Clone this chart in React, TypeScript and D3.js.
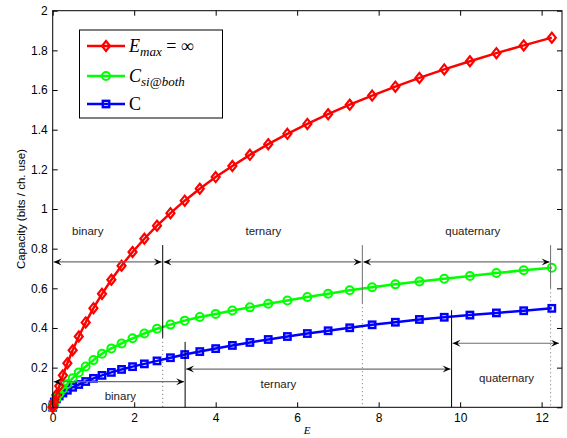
import * as d3 from "d3";
import { useEffect, useRef } from "react";

// E = a^2 for a = 0, 0.1, ..., 3.5 (marker positions)
const E_VALUES = [0, 0.01, 0.04, 0.09, 0.16, 0.25, 0.36, 0.49, 0.64, 0.81, 1, 1.21, 1.44, 1.69, 1.96, 2.25, 2.56, 2.89, 3.24, 3.61, 4, 4.41, 4.84, 5.29, 5.76, 6.25, 6.76, 7.29, 7.84, 8.41, 9, 9.61, 10.24, 10.89, 11.56, 12.25];

const EMAX_INF = [0, 0.007, 0.028, 0.062, 0.107, 0.161, 0.222, 0.288, 0.357, 0.428, 0.5, 0.572, 0.643, 0.714, 0.783, 0.85, 0.916, 0.979, 1.042, 1.102, 1.161, 1.217, 1.273, 1.327, 1.379, 1.429, 1.478, 1.526, 1.572, 1.617, 1.661, 1.704, 1.745, 1.786, 1.825, 1.864];

const C_SI_BOTH = [0, 0.006, 0.022, 0.045, 0.068, 0.092, 0.118, 0.147, 0.176, 0.206, 0.238, 0.27, 0.297, 0.322, 0.348, 0.372, 0.396, 0.417, 0.437, 0.455, 0.471, 0.488, 0.504, 0.522, 0.539, 0.556, 0.573, 0.59, 0.605, 0.62, 0.634, 0.648, 0.662, 0.677, 0.691, 0.704];

const C_VALUES = [0, 0.012, 0.027, 0.042, 0.057, 0.072, 0.086, 0.101, 0.115, 0.13, 0.146, 0.161, 0.176, 0.191, 0.205, 0.219, 0.234, 0.25, 0.266, 0.281, 0.296, 0.312, 0.327, 0.342, 0.357, 0.372, 0.386, 0.401, 0.416, 0.429, 0.443, 0.454, 0.465, 0.476, 0.487, 0.499];

const X_TICKS = [0, 2, 4, 6, 8, 10, 12];
const Y_TICKS = [0, 0.2, 0.4, 0.6, 0.8, 1, 1.2, 1.4, 1.6, 1.8, 2];

const REGION_NAMES = ["binary", "ternary", "quaternary"];
// upper arrows (C_si@both switching points)
const UPPER_BOUNDS = [0, 2.7, 7.6, 12.22];
const UPPER_SOLID_END = [0.35, 0.525, 0.6];
const UPPER_LABEL_X = [0.86, 5.17, 10.31];
// lower arrows (C switching points)
const LOWER_BOUNDS = [0, 3.25, 9.79, 12.45];
const LOWER_ARROW_Y = [0.129, 0.193, 0.323];
const LOWER_LINE_TOP = [0.33, 0.49];
const LOWER_LABEL_X = [1.66, 5.54, 11.14];
const LOWER_LABEL_Y = [0.056, 0.12, 0.148];

const App = () => {
    const svgRef = useRef(null);

    useEffect(() => {
        const svg = d3.select(svgRef.current);
        const width = 567;
        const height = 438;
        const margin = { top: 10.7, right: 5, bottom: 30.7, left: 52.7 };
        const font = "Liberation Sans, Arial, Helvetica, sans-serif";

        svg.selectAll("*").remove();

        const x = d3.scaleLinear().domain([0, 12.5]).range([margin.left, width - margin.right]);
        const y = d3.scaleLinear().domain([0, 2]).range([height - margin.bottom, margin.top]);

        svg.append("rect").attr("width", width).attr("height", height).attr("fill", "#fff");

        // axes with inward ticks
        const styleAxis = (g) => {
            g.select(".domain").remove();
            g.selectAll("line").attr("stroke", "#000");
            g.selectAll("text").attr("font-family", font).attr("font-size", 12).attr("fill", "#000");
        };
        const fmt = (d) => String(+d.toFixed(1));

        svg.append("g")
            .attr("transform", `translate(0,${y(0)})`)
            .call(d3.axisBottom(x).tickValues(X_TICKS).tickSize(-5).tickPadding(6).tickFormat(fmt))
            .call(styleAxis);
        svg.append("g")
            .attr("transform", `translate(0,${y(2)})`)
            .call(d3.axisTop(x).tickValues(X_TICKS).tickSize(-5).tickFormat(() => ""))
            .call(styleAxis);
        svg.append("g")
            .attr("transform", `translate(${x(0)},0)`)
            .call(d3.axisLeft(y).tickValues(Y_TICKS).tickSize(-5).tickPadding(5).tickFormat(fmt))
            .call(styleAxis);
        svg.append("g")
            .attr("transform", `translate(${x(12.5)},0)`)
            .call(d3.axisRight(y).tickValues(Y_TICKS).tickSize(-5).tickFormat(() => ""))
            .call(styleAxis);

        const gray = "#6e6e6e";

        // dotted continuations of the upper boundaries
        UPPER_BOUNDS.slice(1).forEach((b, i) => {
            svg.append("line")
                .attr("x1", x(b)).attr("x2", x(b))
                .attr("y1", y(UPPER_SOLID_END[i])).attr("y2", y(0))
                .attr("stroke", gray).attr("stroke-width", 1).attr("stroke-dasharray", "1,3");
        });

        // series
        const series = [
            { values: EMAX_INF, color: "#ff0000", marker: "diamond" },
            { values: C_SI_BOTH, color: "#00ff00", marker: "circle" },
            { values: C_VALUES, color: "#0000ff", marker: "square" },
        ];

        const line = d3.line().x((d) => x(d[0])).y((d) => y(d[1]));

        const drawMarker = (g, kind, color, cx, cy) => {
            if (kind === "diamond") {
                g.append("path")
                    .attr("d", `M${cx},${cy - 5}L${cx + 4},${cy}L${cx},${cy + 5}L${cx - 4},${cy}Z`)
                    .attr("fill", "none").attr("stroke", color).attr("stroke-width", 2.2);
            } else if (kind === "circle") {
                g.append("circle").attr("cx", cx).attr("cy", cy).attr("r", 4)
                    .attr("fill", "none").attr("stroke", color).attr("stroke-width", 2);
            } else {
                g.append("rect").attr("x", cx - 3.2).attr("y", cy - 3.2).attr("width", 6.4).attr("height", 6.4)
                    .attr("fill", "none").attr("stroke", color).attr("stroke-width", 2.4);
            }
        };

        series.slice().reverse().forEach((s) => {
            const pts = E_VALUES.map((e, i) => [e, s.values[i]]);
            svg.append("path").datum(pts)
                .attr("fill", "none").attr("stroke", s.color).attr("stroke-width", 2.5)
                .attr("stroke-linejoin", "round").attr("d", line);
            const mg = svg.append("g");
            pts.forEach((p) => drawMarker(mg, s.marker, s.color, x(p[0]), y(p[1])));
        });

        // arrowhead: tip at (tx, ty), pointing dir (+1 right, -1 left)
        const arrowHead = (tx, ty, dir) => {
            const L = 8, W = 3.5;
            svg.append("path")
                .attr("d", `M${tx},${ty}L${tx - dir * L},${ty - W}L${tx - dir * L * 0.6},${ty}L${tx - dir * L},${ty + W}Z`)
                .attr("fill", "#000");
        };
        const doubleArrow = (e0, e1, v) => {
            const x0 = x(e0) + 1, x1 = x(e1) - 1, yy = y(v);
            svg.append("line").attr("x1", x0).attr("x2", x1).attr("y1", yy).attr("y2", yy)
                .attr("stroke", gray).attr("stroke-width", 1.2);
            arrowHead(x0, yy, -1);
            arrowHead(x1, yy, 1);
        };

        const textLabel = (tx, ty, str) => {
            svg.append("text").attr("x", tx).attr("y", ty)
                .attr("text-anchor", "middle").attr("dominant-baseline", "central")
                .attr("font-family", font).attr("font-size", 11.5).attr("fill", "#222").text(str);
        };

        // upper set
        UPPER_BOUNDS.slice(1).forEach((b, i) => {
            svg.append("line")
                .attr("x1", x(b)).attr("x2", x(b))
                .attr("y1", y(0.818)).attr("y2", y(UPPER_SOLID_END[i]))
                .attr("stroke", i === 0 ? "#000" : gray).attr("stroke-width", 1);
        });
        REGION_NAMES.forEach((name, i) => {
            doubleArrow(UPPER_BOUNDS[i], UPPER_BOUNDS[i + 1], 0.733);
            textLabel(x(UPPER_LABEL_X[i]), y(0.89), name);
        });

        // lower set
        LOWER_BOUNDS.slice(1, 3).forEach((b, i) => {
            svg.append("line")
                .attr("x1", x(b)).attr("x2", x(b))
                .attr("y1", y(LOWER_LINE_TOP[i])).attr("y2", y(0))
                .attr("stroke", "#000").attr("stroke-width", 1);
        });
        REGION_NAMES.forEach((name, i) => {
            doubleArrow(LOWER_BOUNDS[i], LOWER_BOUNDS[i + 1], LOWER_ARROW_Y[i]);
            textLabel(x(LOWER_LABEL_X[i]), y(LOWER_LABEL_Y[i]), name);
        });

        // frame
        svg.append("rect")
            .attr("x", x(0)).attr("y", y(2))
            .attr("width", x(12.5) - x(0)).attr("height", y(0) - y(2))
            .attr("fill", "none").attr("stroke", "#000").attr("stroke-width", 1);

        // axis labels
        svg.append("text")
            .attr("transform", `translate(21,${(y(0) + y(2)) / 2}) rotate(-90)`)
            .attr("text-anchor", "middle").attr("dominant-baseline", "central")
            .attr("font-family", font).attr("font-size", 11.5).attr("fill", "#000")
            .text("Capacity (bits / ch. use)");
        svg.append("text")
            .attr("x", 307).attr("y", 434)
            .attr("text-anchor", "middle")
            .attr("font-family", "Liberation Serif, Times New Roman, serif").attr("font-style", "italic")
            .attr("font-size", 11).attr("fill", "#000").text("E");

        // legend
        const lg = svg.append("g");
        lg.append("rect").attr("x", 79.5).attr("y", 30).attr("width", 143).attr("height", 88)
            .attr("fill", "#fff").attr("stroke", "#000").attr("stroke-width", 1);
        const serif = "Liberation Serif, Times New Roman, serif";
        const rows = [46, 76, 104];
        series.forEach((s, i) => {
            lg.append("line").attr("x1", 87).attr("x2", 125).attr("y1", rows[i]).attr("y2", rows[i])
                .attr("stroke", s.color).attr("stroke-width", 2.5);
            drawMarker(lg, s.marker, s.color, 106, rows[i]);
        });
        const t0 = lg.append("text").attr("x", 129).attr("y", rows[0] + 6)
            .attr("font-family", serif).attr("font-size", 18).attr("fill", "#000");
        t0.append("tspan").attr("font-style", "italic").text("E");
        t0.append("tspan").attr("font-style", "italic").attr("font-size", 13).attr("dy", 4).text("max");
        t0.append("tspan").attr("dy", -4).text(" = ∞");
        const t1 = lg.append("text").attr("x", 129).attr("y", rows[1] + 6)
            .attr("font-family", serif).attr("font-size", 18).attr("fill", "#000");
        t1.append("tspan").attr("font-style", "italic").text("C");
        t1.append("tspan").attr("font-style", "italic").attr("font-size", 13).attr("dy", 4).text("si@both");
        lg.append("text").attr("x", 129).attr("y", rows[2] + 6)
            .attr("font-family", serif).attr("font-size", 18).attr("fill", "#000").text("C");
    }, []);

    return (
        <svg ref={svgRef} width={567} height={438}
            style={{ position: "absolute", left: 0, top: 0, display: "block" }} />
    );
};

export default App;
